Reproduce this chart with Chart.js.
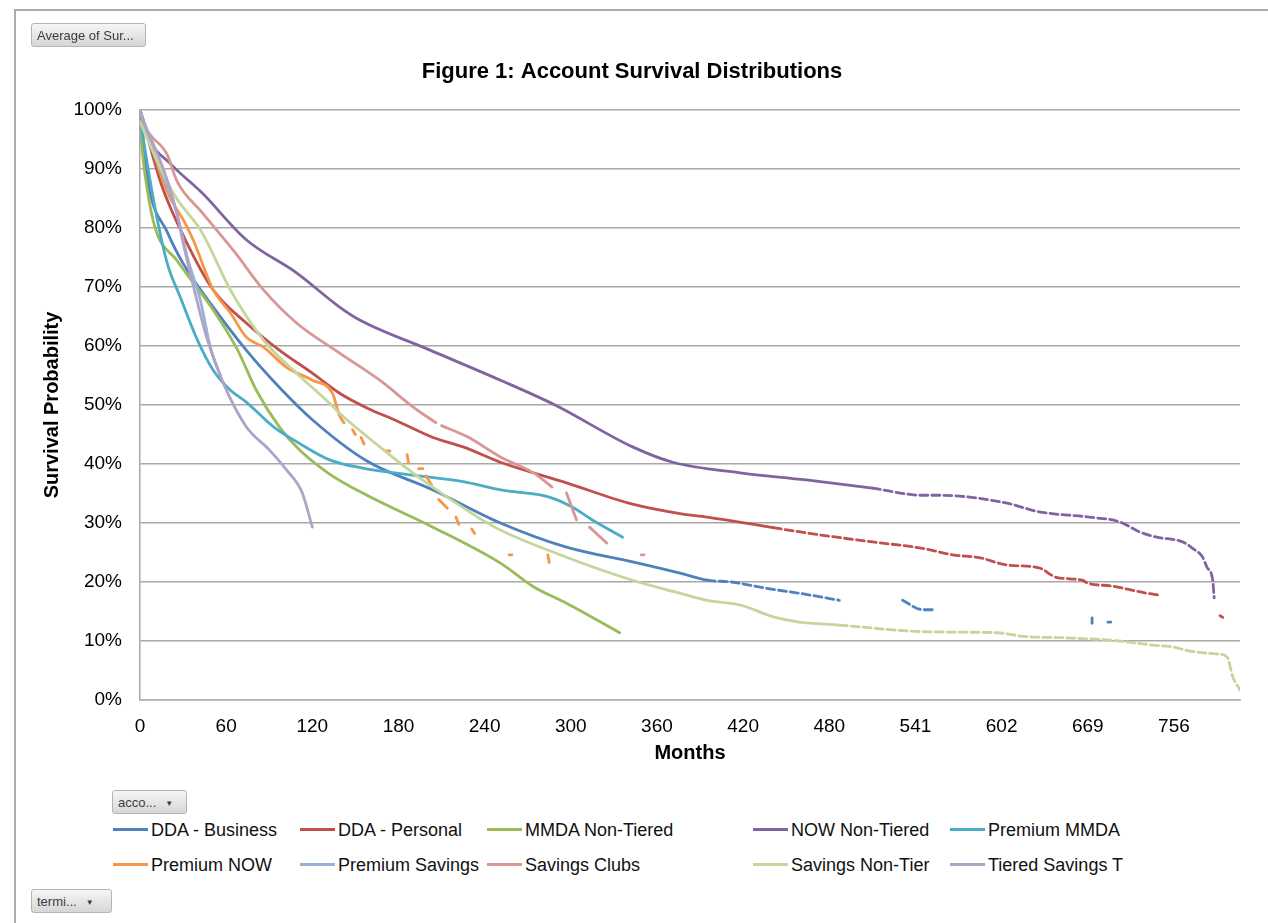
<!DOCTYPE html>
<html>
<head>
<meta charset="utf-8">
<script src="https://cdn.jsdelivr.net/npm/chart.js@4.4.1/dist/chart.umd.min.js"></script>
<style>
	body { margin: 0; background: #fff; font-family: "Liberation Sans", Arial, sans-serif; }
	#wrap { position: relative; width: 1268px; height: 923px; overflow: hidden; }
	#frame { position: absolute; left: 14px; top: 9px; width: 1300px; height: 1000px; border-left: 2px solid #acacac; border-top: 2px solid #acacac; }
	#status_chart { position: absolute; left: 0; top: 0; }
	.pivot-btn { position: absolute; height: 24px; line-height: 24px; font-size: 13px; color: #3c3c3c; border: 1px solid #b4b4b4; border-radius: 3px; background: linear-gradient(#f6f6f6, #d6d6d6); padding: 0 5px; box-sizing: border-box; white-space: nowrap; }
	.pivot-btn .arrow { font-size: 8px; margin-left: 9px; vertical-align: 1px; }
	.legend-item { position: absolute; font-size: 18px; color: #111; white-space: nowrap; line-height: 20px; }
	.legend-item .swatch { display: inline-block; width: 35px; height: 3px; margin-right: 3px; vertical-align: 5px; }
</style>
</head>
<body>
<div id="wrap">
	<div id="frame"></div>
	<canvas id="status_chart" width="1268" height="775"></canvas>
	<div class="pivot-btn" style="left:31px; top:23px; width:115px;">Average of Sur...</div>
	<div class="pivot-btn" style="left:112px; top:790px; width:75px;">acco...<span class="arrow">&#9660;</span></div>
	<div class="pivot-btn" style="left:31px; top:889px; width:81px;">termi...<span class="arrow">&#9660;</span></div>
	<div id="legend"></div>
</div>
<script>
// x values are positions on the months axis (one step per listed month), y values in percent
var tickLabels = ['0', '60', '120', '180', '240', '300', '360', '420', '480', '541', '602', '669', '756'];

var seriesNames = ['DDA - Business', 'DDA - Personal', 'MMDA Non-Tiered', 'NOW Non-Tiered', 'Premium MMDA',
	'Premium NOW', 'Premium Savings', 'Savings Clubs', 'Savings Non-Tier', 'Tiered Savings T'];

var ddaBusiness = [[0, 100], [6, 87.3], [19, 79.3], [30, 74], [51, 66.6], [74, 59.3], [97, 53], [120, 47.5], [158, 40.5],
	[204, 35.6], [251, 30], [297, 25.9], [343, 23.4], [376, 21.5], [395, 20.3], [412, 20], [430, 19.2], [445, 18.6],
	[459, 18.1], [487, 16.9], [500, null], [531, 16.9], [545, 15.3], [552, 15.3], [600, null], [663, 13.9], [663, 13],
	[668, null], [674, 13.2], [676, 13.2]];

var ddaPersonal = [[0, 100], [15, 87.3], [31, 78.3], [51, 69.5], [74, 63.9], [97, 59.3], [120, 55.4], [139, 52],
	[158, 49.5], [179, 47.3], [204, 44.5], [225, 42.9], [251, 40.3], [297, 36.8], [343, 33.2], [376, 31.6], [395, 31],
	[441, 29.2], [473, 28], [510, 26.8], [545, 25.7], [566, 24.6], [585, 24.1], [603, 22.9], [626, 22.4], [638, 20.8],
	[656, 20.3], [660, 19.8], [677, 19.3], [701, 18.1], [709, 17.8], [730, null], [752, 14.3], [754, 14]];

var mmdaNonTiered = [[0, 97], [3, 90], [10, 80.5], [26, 74.4], [51, 66.1], [68, 59.3], [81, 52.5], [97, 46.3],
	[111, 42.4], [132, 38.3], [158, 34.7], [204, 29.3], [251, 23.2], [274, 19.2], [297, 16.4], [334, 11.4]];

var nowNonTiered = [[0, 100], [6, 95.3], [22, 90.7], [43, 86], [74, 78], [109, 72.4], [139, 66.6], [153, 64.4],
	[202, 59.3], [251, 54.2], [289, 50], [343, 42.9], [371, 40.3], [418, 38.5], [464, 37.3], [510, 35.9], [545, 34.7],
	[557, 34.7], [603, 33.4], [626, 31.9], [661, 31], [682, 30.2], [696, 28.5], [708, 27.6], [726, 26.8], [733, 25.7],
	[740, 24.2], [743, 22.5], [747, 20.3], [748, 17.3]];

var premiumMMDA = [[0, 98.5], [10, 84], [19, 74], [28, 68.3], [40, 61], [51, 55.9], [63, 52.5], [74, 50.5], [93, 46.3],
	[111, 43.5], [132, 40.7], [155, 39.3], [190, 38.1], [225, 37], [251, 35.6], [285, 34.4], [301, 32.7], [315, 30.5],
	[336, 27.6]];

var premiumNOW = [[0, 100], [19, 86.1], [31, 81], [37, 78], [51, 69.5], [63, 65.6], [74, 61.5], [86, 59.8], [102, 56.4],
	[120, 54.2], [134, 52], [137, 49.7], [139, 48.2], [142, 47], [145, null], [148, 45.8], [150, 45], [152, null],
	[154, 44.5], [156, 43.4], [160, null], [171, 42.2], [174, 42.2], [180, null], [186, 41.6], [187, 40.2], [190, null],
	[194, 39.2], [197, 39.2], [198, null], [199, 38], [203, 36.5], [205, null], [208, 34], [214, 32.5], [217, null],
	[220, 31], [222, 29.8], [226, null], [231, 29], [233, 28.2], [240, null], [257, 24.6], [259, 24.6], [270, null],
	[284, 24.6], [285, 23.3]];

var premiumSavings = [[0, 100], [6, 95], [15, 89.5], [26, 82.2], [33, 75], [42, 67.8], [49, 59.8], [56, 55]];

var savingsClubs = [[0, 100], [3, 97.5], [19, 92.4], [26, 87.8], [43, 82.7], [66, 75.9], [86, 69.5],
	[109, 63.9], [139, 58.8], [167, 54.2], [190, 49.7], [206, 47], [208, null], [210, 46.5], [228, 44.6], [251, 41.2],
	[274, 38.5], [287, 36.1], [292, null], [297, 35.1], [304, 30.5], [308, null], [313, 29.3], [325, 26.6], [340, null],
	[349, 24.6], [351, 24.6]];

var savingsNonTier = [[0, 98], [10, 92.4], [24, 85.6], [43, 79.3], [63, 69.5], [86, 61], [109, 55.4], [132, 50.3],
	[139, 48.6], [167, 42.9], [190, 38.5], [214, 34.4], [247, 29.3], [297, 24.2], [343, 20.3], [376, 18.1], [395, 16.9],
	[418, 16.1], [441, 14.1], [459, 13.2], [487, 12.7], [510, 12.2], [534, 11.7], [569, 11.5], [597, 11.4], [615, 10.8],
	[649, 10.5], [682, 10], [705, 9.3], [719, 9], [731, 8.3], [750, 7.8], [757, 7.3], [761, 3.9], [766, 1.7]];

var tieredSavings = [[0, 100], [3, 97.9], [17, 89.5], [26, 82.2], [30, 77.5], [37, 70.3], [47, 61], [58, 53.7], [74, 46.3],
	[90, 42.4], [102, 39], [113, 35.1], [120, 29.3]];

var seriesValues = [ddaBusiness, ddaPersonal, mmdaNonTiered, nowNonTiered, premiumMMDA,
	premiumNOW, premiumSavings, savingsClubs, savingsNonTier, tieredSavings];

var seriesColors = ['#4f81bd', '#c0504d', '#9bbb59', '#8064a2', '#4bacc6', '#f79646', '#95b3d7', '#d99694', '#c3d69b', '#b3a2c7'];
// where a series turns into the broken, dotted tail
var dashFrom = [395, 430, Infinity, 500, Infinity, Infinity, Infinity, Infinity, 470, Infinity];
var legendCols = [113, 300, 487, 753, 950];
var legendRows = [820, 855];

function buildDatasets() {
	var sets = [];
	for (var i = 0; i < seriesNames.length; i++) {
		(function (i) {
			sets.push({
				label: seriesNames[i],
				data: seriesValues[i].map(function (p) { return { x: p[0], y: p[1] }; }),
				borderColor: seriesColors[i],
				backgroundColor: seriesColors[i],
				borderWidth: 2.8,
				borderCapStyle: 'round',
				borderJoinStyle: 'round',
				pointRadius: 0,
				cubicInterpolationMode: 'monotone',
				fill: false,
				spanGaps: false,
				order: seriesNames.length - i,
				segment: {
					borderDash: function (ctx) {
						return ctx.p0.parsed.x >= dashFrom[i] ? [8, 4] : undefined;
					}
				}
			});
		})(i);
	}
	return sets;
}

function renderSurvivalChart() {
	var ctx = document.getElementById('status_chart').getContext('2d');
	var font = "'Liberation Sans', Arial, sans-serif";

	window.survivalChart = new Chart(ctx, {
		type: 'line',
		data: { datasets: buildDatasets() },
		options: {
			responsive: false,
			animation: false,
			devicePixelRatio: 1,
			layout: { padding: { left: 24, right: 28, top: 0, bottom: 0 } },
			scales: {
				x: {
					type: 'linear',
					min: 0,
					max: 766,
					grid: { display: false, drawTicks: false },
					border: { display: true, color: '#b0b0b0', width: 1.5 },
					ticks: {
						stepSize: 60,
						includeBounds: false,
						autoSkip: false,
						maxRotation: 0,
						padding: 15,
						color: '#000',
						font: { family: font, size: 19 },
						callback: function (value) {
							var k = value / 60;
							return Number.isInteger(k) && tickLabels[k] !== undefined ? tickLabels[k] : '';
						}
					},
					title: {
						display: true,
						text: 'Months',
						color: '#000',
						font: { family: font, size: 20, weight: 'bold' },
						padding: { top: 0, bottom: 10 }
					},
					afterFit: function (scale) { scale.height = 75; }
				},
				y: {
					min: 0,
					max: 100,
					grid: { color: '#a8a8a8', lineWidth: 1.5, drawTicks: false },
					border: { display: true, color: '#a8a8a8', width: 1.5 },
					ticks: {
						stepSize: 10,
						padding: 18,
						color: '#000',
						font: { family: font, size: 19 },
						callback: function (value) { return value + '%'; }
					},
					title: {
						display: true,
						text: 'Survival Probability',
						color: '#000',
						font: { family: font, size: 20, weight: 'bold' },
						padding: { top: 16, bottom: 0 }
					},
					afterFit: function (scale) { scale.width = 116; }
				}
			},
			plugins: {
				legend: { display: false },
				tooltip: { enabled: false },
				title: {
					display: true,
					text: 'Figure 1: Account Survival Distributions',
					color: '#000',
					font: { family: font, size: 22, weight: 'bold' },
					padding: { top: 59, bottom: 24.6 }
				}
			}
		}
	});

	// legend in the same two-row layout as the pivot chart
	var legend = document.getElementById('legend');
	window.survivalChart.data.datasets.forEach(function (ds, i) {
		var item = document.createElement('div');
		item.className = 'legend-item';
		item.style.left = legendCols[i % legendCols.length] + 'px';
		item.style.top = legendRows[Math.floor(i / legendCols.length)] + 'px';
		item.innerHTML = '<span class="swatch" style="background:' + ds.borderColor + '"></span>' + ds.label;
		legend.appendChild(item);
	});
}

renderSurvivalChart();
</script>
</body>
</html>
